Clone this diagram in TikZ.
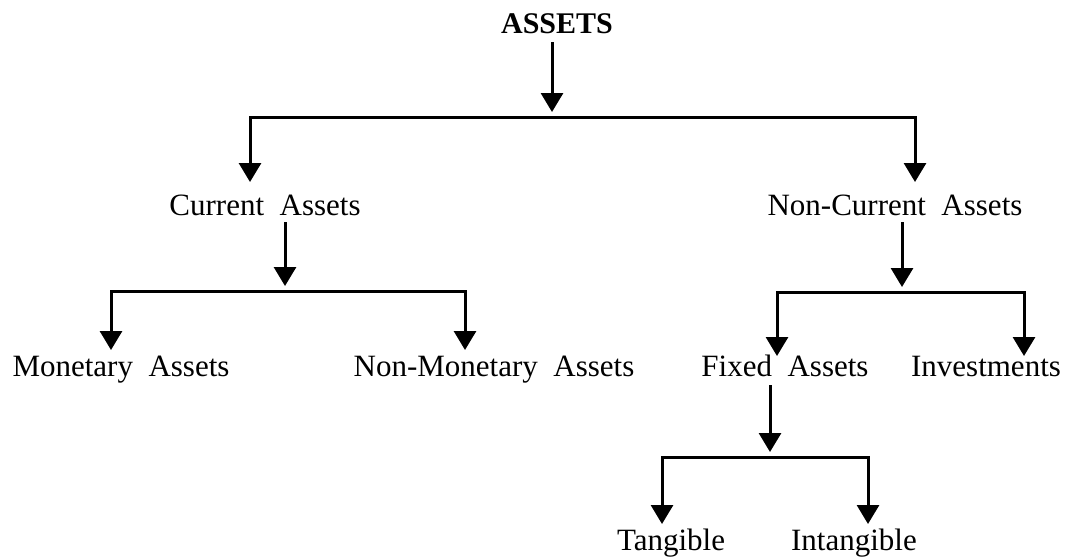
\documentclass[tikz,border=0pt]{standalone}
\usepackage{fontspec}
\setmainfont{Liberation Serif}
\usetikzlibrary{arrows.meta}
\begin{document}
\begin{tikzpicture}[x=1pt,y=-1pt,
  lbl/.style={anchor=base,inner sep=0pt,font=\fontsize{31}{36}\selectfont},
  ttl/.style={anchor=base,inner sep=0pt,font=\fontsize{30}{36}\selectfont\bfseries},
  ln/.style={line width=3pt,line cap=rect},
  arr/.style={line width=3pt,-{Triangle[width=22pt,length=19pt]}}]
\useasboundingbox (0,0) rectangle (1065,558);
% texts
\node[ttl] (assets) at (557,33) {ASSETS};
\node[lbl] (cur) at (265,215) {Current\ \ Assets};
\node[lbl] (ncur) at (895,215) {Non-Current\ \ Assets};
\node[lbl] (mon) at (121,376) {Monetary\ \ Assets};
\node[lbl] (nmon) at (494,376) {Non-Monetary\ \ Assets};
\node[lbl] (fix) at (785,376) {Fixed\ \ Assets};
\node[lbl] (inv) at (986,376) {Investments};
\node[lbl] (tan) at (671,550) {Tangible};
\node[lbl] (intan) at (854,550) {Intangible};
% junction points
\coordinate (a0) at (552,42);
\coordinate (a1) at (552,112);
\coordinate (aL) at (250,117);
\coordinate (aR) at (915,117);
\coordinate (aLt) at (250,182);
\coordinate (aRt) at (915,182);
\coordinate (c0) at (285,222);
\coordinate (c1) at (285,286);
\coordinate (cL) at (111,291);
\coordinate (cR) at (465,291);
\coordinate (cLt) at (111,350);
\coordinate (cRt) at (465,350);
\coordinate (n0) at (902,222);
\coordinate (n1) at (902,287);
\coordinate (nL) at (777,292);
\coordinate (nR) at (1024,292);
\coordinate (nLt) at (777,356);
\coordinate (nRt) at (1024,356);
\coordinate (f0) at (770,385);
\coordinate (f1) at (770,452);
\coordinate (fL) at (662,457);
\coordinate (fR) at (868,457);
\coordinate (fLt) at (662,524);
\coordinate (fRt) at (868,524);
% connectors
\draw[arr] (a0) -- (a1);
\draw[ln] (aL) -- (aR);
\draw[arr] (aL) -- (aLt);
\draw[arr] (aR) -- (aRt);
\draw[arr] (c0) -- (c1);
\draw[ln] (cL) -- (cR);
\draw[arr] (cL) -- (cLt);
\draw[arr] (cR) -- (cRt);
\draw[arr] (n0) -- (n1);
\draw[ln] (nL) -- (nR);
\draw[arr] (nL) -- (nLt);
\draw[arr] (nR) -- (nRt);
\draw[arr] (f0) -- (f1);
\draw[ln] (fL) -- (fR);
\draw[arr] (fL) -- (fLt);
\draw[arr] (fR) -- (fRt);
\end{tikzpicture}
\end{document}
